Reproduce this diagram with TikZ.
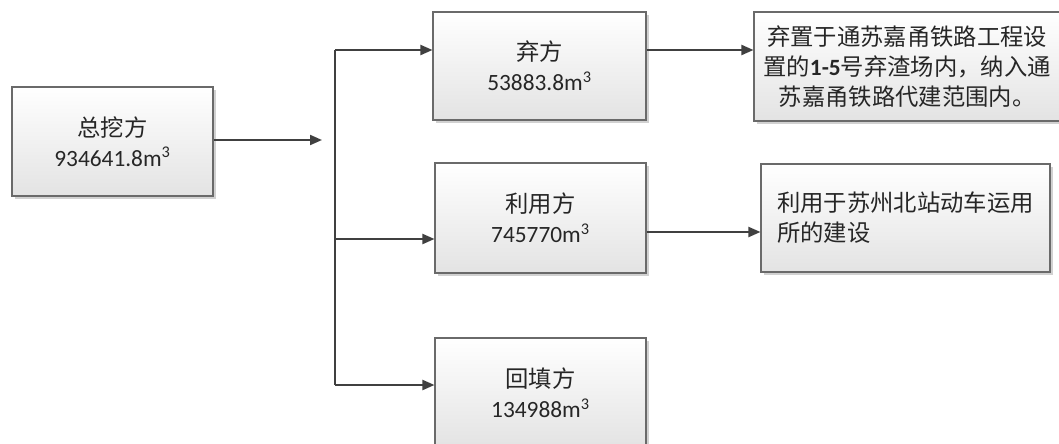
\documentclass[tikz,border=0pt]{standalone}
\usepackage{fontspec}
\setmainfont{Carlito}
\newfontfamily\cjk{Noto Sans CJK SC}
\usetikzlibrary{arrows.meta,shadows}
\definecolor{linec}{HTML}{404040}
\definecolor{boxline}{HTML}{6A6A6A}
\definecolor{txt}{HTML}{262626}
\begin{document}
\begin{tikzpicture}[x=0.75pt,y=-0.75pt,
  box/.style 2 args={draw=boxline, line width=0.8pt, top color=white, bottom color=black!11,
    general shadow={fill=black!18, shadow xshift=2.3pt, shadow yshift=-2.3pt},
    minimum width=#1*0.75pt, minimum height=#2*0.75pt, inner sep=0pt, align=center,
    text=txt, font=\fontsize{17.5pt}{22.5pt}\selectfont},
  conn/.style={draw=linec, line width=1.5pt, -{Triangle[length=9pt,width=7.5pt]}},
  trunk/.style={draw=linec, line width=1.5pt}]
\useasboundingbox (0,0) rectangle (1059,443);
\begin{scope}
\clip (0,0) rectangle (1059,443);
\node[box={201}{109}] (A) at (112.5,141.5) {{\cjk 总挖方}\\934641.8m\textsuperscript{3}};
\node[box={213}{108}] (B) at (539.5,66) {{\cjk 弃方}\\53883.8m\textsuperscript{3}};
\node[box={211}{110}] (C) at (540.5,218) {{\cjk 利用方}\\745770m\textsuperscript{3}};
\node[box={211}{110}] (D) at (540.5,393) {{\cjk 回填方}\\134988m\textsuperscript{3}};
\node[box={306}{109}] (E) at (907,66.5) {{\cjk 弃置于通苏嘉甬铁路工程设}\\{\cjk 置的}\textbf{1-5}{\cjk 号弃渣场内，纳入通}\\{\cjk 苏嘉甬铁路代建范围内。}};
\node[box={289}{108}, align=left] (F) at (905.5,218) {{\cjk 利用于苏州北站动车运用}\\{\cjk 所的建设}};
\coordinate (Aend) at (322,140);
\coordinate (T1) at (335,50);
\coordinate (T2) at (335,239);
\coordinate (T3) at (335,385);
\end{scope}
\draw[conn] (A.east |- Aend) -- (Aend);
\draw[trunk] (T1) -- (T3);
\draw[conn] (T1) -- (B.west |- T1);
\draw[conn] (T2) -- (C.west |- T2);
\draw[conn] (T3) -- (D.west |- T3);
\draw[conn] (B.east |- T1) -- (E.west |- T1);
\coordinate (M) at (700,232);
\draw[conn] (C.east |- M) -- (F.west |- M);
\end{tikzpicture}
\end{document}
